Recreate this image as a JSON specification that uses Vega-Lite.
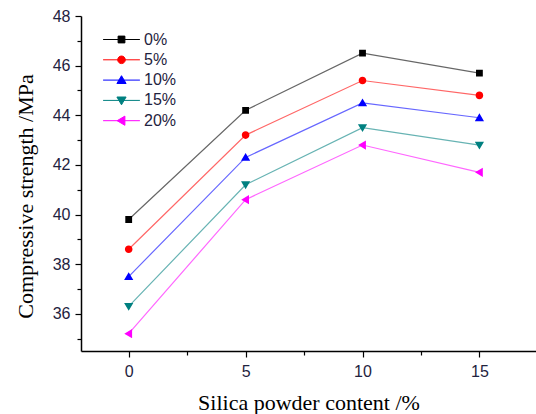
{
  "$schema": "https://vega.github.io/schema/vega-lite/v6.json",
  "width": 455,
  "height": 335,
  "autosize": {"type": "none"},
  "padding": {"left": 81, "top": 16, "right": 0, "bottom": 63},
  "background": "white",
  "config": {
    "view": {"stroke": null},
    "axis": {
      "domainColor": "#000000",
      "domainWidth": 1.5,
      "tickColor": "#000000",
      "tickWidth": 1.2,
      "grid": false,
      "labelFont": "Liberation Sans",
      "labelFontSize": 16,
      "labelColor": "#1f2340",
      "titleFont": "Liberation Serif",
      "titleFontSize": 22,
      "titleFontWeight": "normal",
      "titleColor": "#000000"
    },
    "legend": {
      "orient": "none",
      "legendX": 32.5,
      "legendY": 15.5,
      "padding": 0,
      "symbolSize": 64,
      "symbolStrokeWidth": 1,
      "symbolOpacity": 1,
      "labelFont": "Liberation Sans",
      "labelFontSize": 16,
      "labelColor": "#1f2340",
      "labelOffset": 14.5,
      "rowPadding": 4.3
    }
  },
  "data": {
    "values": [
      {"silica": 0, "strength": 39.8, "series": "0%"},
      {"silica": 5, "strength": 44.2, "series": "0%"},
      {"silica": 10, "strength": 46.5, "series": "0%"},
      {"silica": 15, "strength": 45.7, "series": "0%"},
      {"silica": 0, "strength": 38.6, "series": "5%"},
      {"silica": 5, "strength": 43.2, "series": "5%"},
      {"silica": 10, "strength": 45.4, "series": "5%"},
      {"silica": 15, "strength": 44.8, "series": "5%"},
      {"silica": 0, "strength": 37.5, "series": "10%"},
      {"silica": 5, "strength": 42.3, "series": "10%"},
      {"silica": 10, "strength": 44.5, "series": "10%"},
      {"silica": 15, "strength": 43.9, "series": "10%"},
      {"silica": 0, "strength": 36.3, "series": "15%"},
      {"silica": 5, "strength": 41.2, "series": "15%"},
      {"silica": 10, "strength": 43.5, "series": "15%"},
      {"silica": 15, "strength": 42.8, "series": "15%"},
      {"silica": 0, "strength": 35.2, "series": "20%"},
      {"silica": 5, "strength": 40.6, "series": "20%"},
      {"silica": 10, "strength": 42.8, "series": "20%"},
      {"silica": 15, "strength": 41.7, "series": "20%"}
    ]
  },
  "encoding": {
    "x": {
      "field": "silica",
      "type": "quantitative",
      "scale": {"domain": [-2.04, 17.42], "nice": false, "zero": false},
      "axis": {
        "title": "Silica powder content /%",
        "values": [0, 2.5, 5, 7.5, 10, 12.5, 15],
        "labelExpr": "datum.value % 5 == 0 ? datum.label : ''",
        "tickSize": {"condition": {"test": "datum.value % 5 == 0", "value": 6}, "value": 4},
        "labelPadding": 6,
        "titleX": 227.5,
        "titleY": 58,
        "titleBaseline": "alphabetic",
        "titleAnchor": "middle"
      }
    },
    "y": {
      "field": "strength",
      "type": "quantitative",
      "scale": {"domain": [34.5, 48], "nice": false, "zero": false},
      "axis": {
        "title": "Compressive strength /MPa",
        "values": [35, 36, 37, 38, 39, 40, 41, 42, 43, 44, 45, 46, 47, 48],
        "labelExpr": "datum.value % 2 == 0 ? datum.label : ''",
        "tickSize": {"condition": {"test": "datum.value % 2 == 0", "value": 6}, "value": 4},
        "labelPadding": 5,
        "titleX": -49,
        "titleY": 180,
        "titleBaseline": "alphabetic",
        "titleAnchor": "middle"
      }
    }
  },
  "layer": [
    {
      "mark": {"type": "line", "strokeWidth": 1.2, "opacity": 0.6},
      "encoding": {
        "stroke": {
          "field": "series",
          "type": "nominal",
          "title": null,
          "scale": {
            "domain": ["0%", "5%", "10%", "15%", "20%"],
            "range": ["#000000", "#ff0000", "#0000ff", "#008080", "#ff00ff"]
          }
        }
      }
    },
    {
      "mark": {"type": "point", "filled": true, "opacity": 1, "size": 64},
      "encoding": {
        "fill": {
          "field": "series",
          "type": "nominal",
          "title": null,
          "scale": {
            "domain": ["0%", "5%", "10%", "15%", "20%"],
            "range": ["#000000", "#ff0000", "#0000ff", "#008080", "#ff00ff"]
          }
        },
        "shape": {
          "field": "series",
          "type": "nominal",
          "title": null,
          "scale": {
            "domain": ["0%", "5%", "10%", "15%", "20%"],
            "range": [
              "M-4.6,0H4.6M-0.85,-0.85H0.85V0.85H-0.85Z",
              "M-4.6,0H4.6M0.95,0A0.95,0.95,0,1,1,-0.95,0A0.95,0.95,0,1,1,0.95,0Z",
              "M-4.6,0H4.6M0,-1.1L1.15,0.85H-1.15Z",
              "M-4.6,0H4.6M0,1.1L1.15,-0.85H-1.15Z",
              "M-4.6,0H4.6M-1.1,0L0.85,-1.15V1.15Z"
            ]
          }
        }
      }
    }
  ]
}
